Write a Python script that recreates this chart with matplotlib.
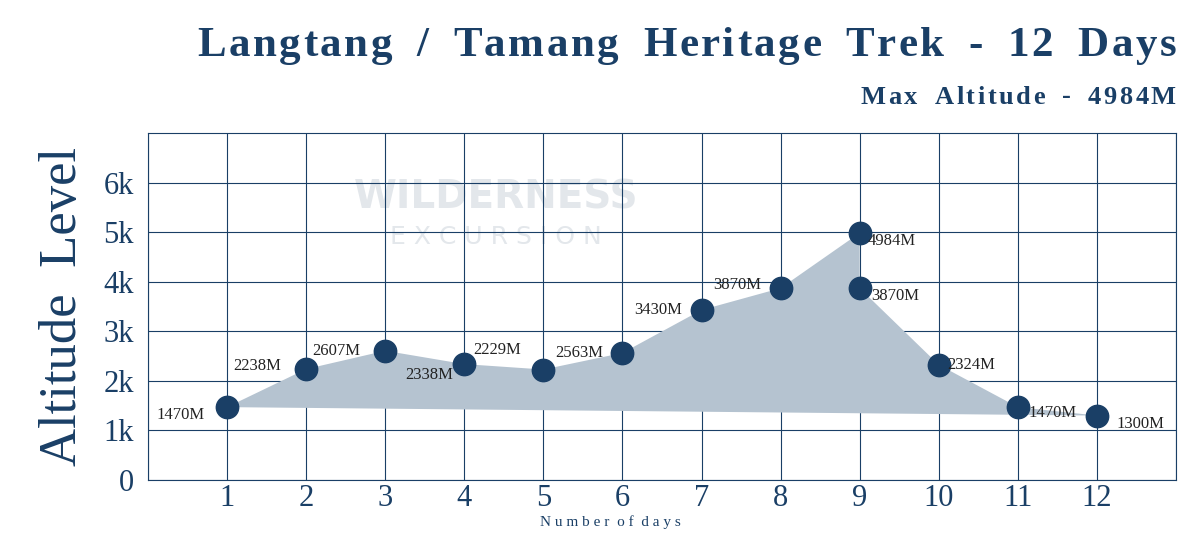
import matplotlib.pyplot as plt
from matplotlib.patches import Polygon

days = [1, 2, 3, 4, 5, 6, 7, 8, 9, 9, 10, 11, 12]
alt = [1470, 2238, 2607, 2338, 2229, 2563, 3430, 3870, 4984, 3870, 2324, 1470, 1300]
labels = ['1470M', '2238M', '2607M', '2338M', '2229M', '2563M', '3430M', '3870M',
          '4984M', '3870M', '2324M', '1470M', '1300M']
# label offsets in points (dx, dy, ha)
offs = [(-16, -6, 'right'), (-18, 2, 'right'), (-18, 0, 'right'), (-8, -8, 'right'),
        (-16, 14, 'right'), (-14, 0, 'right'), (-14, 0, 'right'), (-14, 2, 'right'),
        (6, -6, 'left'), (8, -6, 'left'), (6, 0, 'left'), (8, -4, 'left'), (14, -6, 'left')]

navy = '#1a3f66'
plt.rcParams['font.family'] = ['Liberation Serif', 'DejaVu Serif']

fig = plt.figure(figsize=(12, 5.56), dpi=100)
ax = fig.add_axes([148/1200, 1-480/556, (1176-148)/1200, (480-133)/556])

poly = Polygon(list(zip(days, alt)), closed=True, facecolor='#b5c3d0', edgecolor='none', zorder=1)
ax.add_patch(poly)
ax.scatter(days, alt, s=260, color=navy, zorder=3)
for x, y, t, (dx, dy, ha) in zip(days, alt, labels, offs):
    ax.annotate(t, (x, y), xytext=(dx, dy), textcoords='offset points', ha=ha, va='center',
                fontsize=12, color='#222222', zorder=4)

ax.text(4.4, 5700, 'WILDERNESS', fontsize=28, fontweight='bold', color='#e3e7eb',
        ha='center', va='center', zorder=0, family='DejaVu Sans')
ax.text(4.4, 4900, 'E X C U R S I O N', fontsize=18, color='#e3e7eb',
        ha='center', va='center', zorder=0, family='DejaVu Sans')

ax.set_xlim(0, 13)
ax.set_ylim(0, 7000)
ax.set_xticks(range(0, 14))
ax.set_xticklabels([''] + [str(d) for d in range(1, 13)] + [''])
ax.set_yticks(range(0, 7000, 1000))
ax.set_yticklabels(['0', '1k', '2k', '3k', '4k', '5k', '6k'])
ax.grid(True, color=navy, linewidth=0.8)
ax.set_axisbelow(True)
for s in ax.spines.values():
    s.set_color(navy)
    s.set_linewidth(0.8)
ax.tick_params(length=0, labelsize=22, colors=navy, pad=10)
ax.tick_params(axis='x', pad=3)
ax.set_ylabel('Altitude  Level', fontsize=38, color=navy, labelpad=12)
fig.text(610 / 1200, 1 - 522 / 556, 'N u m b e r  o f  d a y s', fontsize=11, color=navy,
         ha='center', va='center')


def spaced(x, y, s, size, gap):
    # draw text right-aligned at x with extra letter spacing (pixels)
    r = fig.canvas.get_renderer()
    widths = []
    for ch in s:
        t = fig.text(0, 0, ch if ch != ' ' else 'i', fontsize=size, fontweight='bold')
        widths.append(t.get_window_extent(r).width * (1.6 if ch == ' ' else 1))
        t.remove()
    total = sum(widths) + gap * (len(s) - 1)
    px = x - total
    for ch, w in zip(s, widths):
        if ch != ' ':
            fig.text(px / 1200, 1 - y / 556, ch, fontsize=size, fontweight='bold',
                     color=navy, va='center')
        px += w + gap


spaced(1176, 46, 'Langtang / Tamang Heritage Trek - 12 Days', 31, 2.6)
spaced(1176, 97, 'Max Altitude - 4984M', 19, 2.6)

fig.savefig('out.png', dpi=100)
